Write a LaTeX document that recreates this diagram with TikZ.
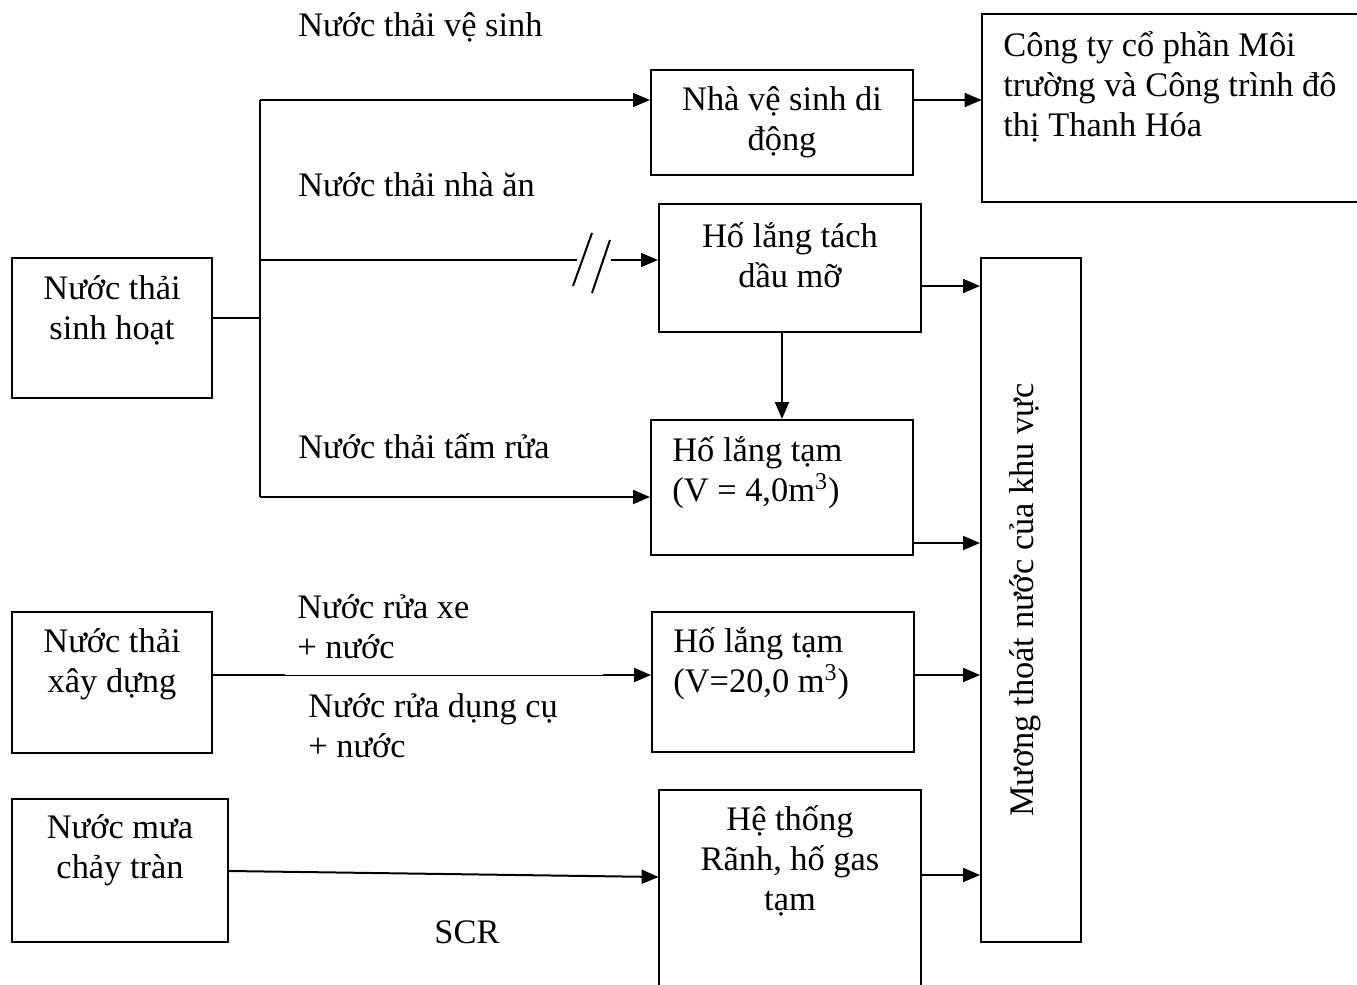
\documentclass[tikz,border=0pt]{standalone}
\usepackage{fontspec}
\setmainfont{Liberation Serif}
\usetikzlibrary{arrows.meta,fit}
\begin{document}
\begin{tikzpicture}[x=0.5pt,y=-0.5pt,
  box/.style={draw, line width=1pt, inner sep=0pt},
  txt/.style={inner sep=0pt, font=\fontsize{17.2}{20}\selectfont},
  arr/.style={line width=1pt, -{Triangle[length=8.5pt,width=7pt]}},
  ln/.style={line width=1pt},
  thin/.style={line width=0.5pt}]
\useasboundingbox (0,0) rectangle (1357,985);
\clip (0,0) rectangle (1357,985);
% boxes
\node[box, fit={(12,258)(212,398)}] (sh) {};
\node[box, fit={(651,70)(913,175)}] (nvs) {};
\node[inner sep=0pt, fit={(982,14)(1420,202)}] (ct) {};
\draw[ln] (ct.north east) -- (ct.north west) -- (ct.south west) -- (ct.south east);
\node[box, fit={(659,204)(921,332)}] (td) {};
\node[box, fit={(651,420)(913,555)}] (hl1) {};
\node[box, fit={(981,258)(1081,942)}] (mt) {};
\node[box, fit={(652,612)(914,752)}] (hl2) {};
\node[box, fit={(12,612)(212,753)}] (xd) {};
\node[box, fit={(12,799)(228,942)}] (mua) {};
\node[inner sep=0pt, fit={(659,790)(921,1030)}] (ht) {};
\draw[ln] (ht.south west) -- (ht.north west) -- (ht.north east) -- (ht.south east);
% box texts
\node[txt, align=center] (tsh) at (112,310) {Nước thải\\sinh hoạt};
\node[txt, align=center] (tnvs) at (782,122) {Nhà vệ sinh di\\động};
\node[txt, align=left, anchor=west] (tct) at (1003,87) {Công ty cổ phần Môi\\trường và Công trình đô\\thị Thanh Hóa};
\node[txt, align=center] (ttd) at (790,255) {Hố lắng tách\\dầu mỡ};
\node[txt, align=left, anchor=west] (thl1) at (672,473) {Hố lắng tạm\\(V = 4,0m\textsuperscript{3})};
\node[txt, align=left, anchor=west] (thl2) at (673,664) {Hố lắng tạm\\(V=20,0 m\textsuperscript{3})};
\node[txt, align=center] (txd) at (112,664) {Nước thải\\xây dựng};
\node[txt, align=center] (tmua) at (120,850) {Nước mưa\\chảy tràn};
\node[txt, align=center] (tht) at (790,861) {Hệ thống\\Rãnh, hố gas\\tạm};
\node[txt, rotate=90] (tmt) at (1025,600) {Mương thoát nước của khu vực};
% flow labels
\node[txt, anchor=west] (l1) at (298,27) {Nước thải vệ sinh};
\node[txt, anchor=west] (l2) at (298,185) {Nước thải nhà ăn};
\node[txt, anchor=west] (l3) at (298,446) {Nước thải tấm rửa};
\node[txt, anchor=west, align=left] (l4) at (297,627) {Nước rửa xe\\+ nước};
\node[txt, anchor=west, align=left] (l5) at (308,726) {Nước rửa dụng cụ\\+ nước};
\node[txt] (l6) at (467,932) {SCR};
% junction
\coordinate (j) at (260,318);
\coordinate (jt) at (260,100);
\coordinate (jm) at (260,260);
\coordinate (jb) at (260,497);
\draw[ln] (sh.east |- j) -- (j);
\draw[ln] (jt) -- (jb);
\draw[arr] (jt) -- (jt -| nvs.west);
\coordinate (s1) at (577,260);
\coordinate (s2) at (611,260);
\draw[ln] (jm) -- (s1);
\draw[arr] (s2) -- (s2 -| td.west);
\draw[ln] (592,233) -- (573,286);
\draw[ln] (610,240) -- (592,293);
\draw[arr] (jb) -- (jb -| hl1.west);
% right arrows
\coordinate (r0) at (0,100);
\coordinate (r1) at (0,286);
\coordinate (r2) at (0,543);
\coordinate (r3) at (0,675);
\coordinate (r4) at (0,875);
\draw[arr] (r0 -| nvs.east) -- (r0 -| ct.west);
\draw[arr] (hl1.north |- td.south) -- (hl1.north);
\draw[arr] (r1 -| td.east) -- (r1 -| mt.west);
\draw[arr] (r2 -| hl1.east) -- (r2 -| mt.west);
\draw[arr] (r3 -| hl2.east) -- (r3 -| mt.west);
\draw[arr] (r4 -| ht.east) -- (r4 -| mt.west);
% construction water
\coordinate (x1) at (285,675);
\coordinate (x2) at (603,675);
\draw[ln] (r3 -| xd.east) -- (x1);
\draw[thin] (x1) -- (x2);
\draw[arr] (x2) -- (r3 -| hl2.west);
% rain
\coordinate (m1) at (0,871);
\coordinate (m2) at (0,877);
\draw[arr] (m1 -| mua.east) -- (m2 -| ht.west);
\end{tikzpicture}
\end{document}
